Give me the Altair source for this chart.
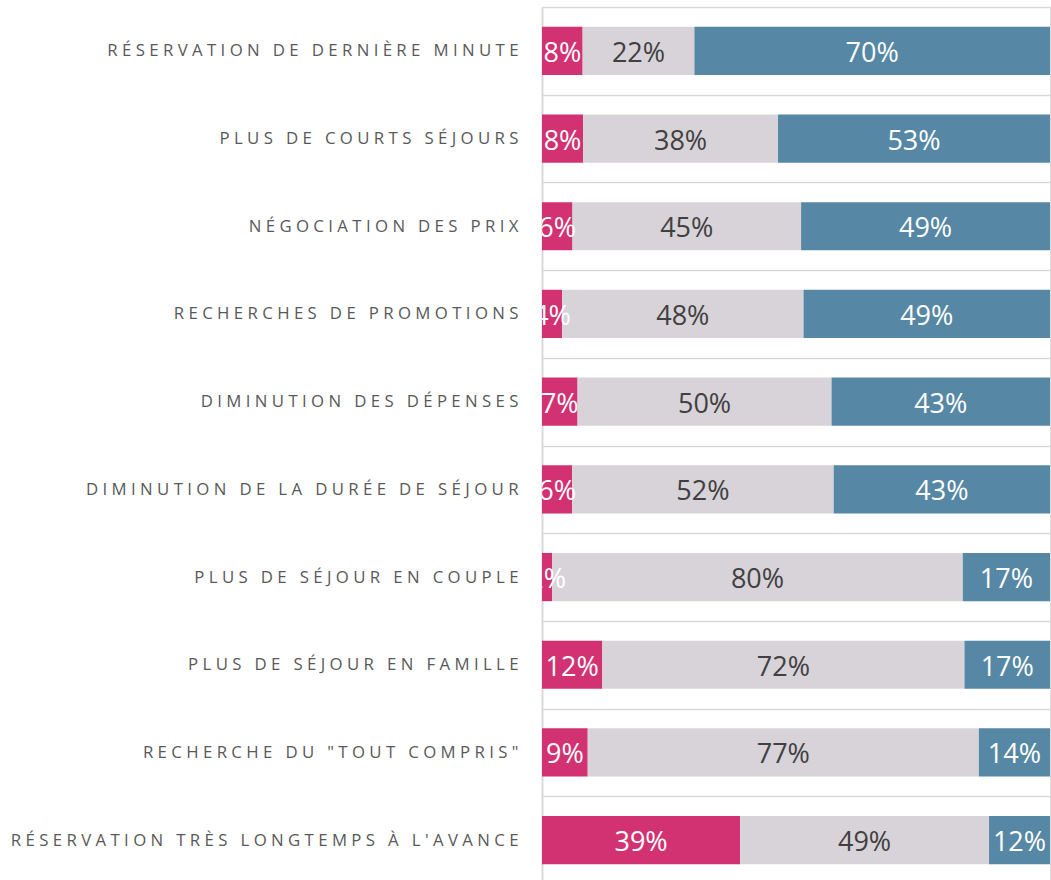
import altair as alt
import pandas as pd

categories = [
    "RÉSERVATION DE DERNIÈRE MINUTE",
    "PLUS DE COURTS SÉJOURS",
    "NÉGOCIATION DES PRIX",
    "RECHERCHES DE PROMOTIONS",
    "DIMINUTION DES DÉPENSES",
    "DIMINUTION DE LA DURÉE DE SÉJOUR",
    "PLUS DE SÉJOUR EN COUPLE",
    "PLUS DE SÉJOUR EN FAMILLE",
    'RECHERCHE DU "TOUT COMPRIS"',
    "RÉSERVATION TRÈS LONGTEMPS À L'AVANCE",
]
seg_a = [8, 8, 6, 4, 7, 6, 2, 12, 9, 39]
seg_b = [22, 38, 45, 48, 50, 52, 80, 72, 77, 49]
seg_c = [70, 53, 49, 49, 43, 43, 17, 17, 14, 12]

GAP = "\u00a0"


def spaced(s):
    return GAP.join(list(s))


labels = [spaced(c) for c in categories]

rows = []
for i, lab in enumerate(labels):
    for k, (seg, vals) in enumerate([("a", seg_a), ("b", seg_b), ("c", seg_c)]):
        rows.append({"cat": lab, "seg": seg, "ord": k, "value": vals[i],
                     "txt": f"{vals[i]}%"})
df = pd.DataFrame(rows)

base = alt.Chart(df).transform_stack(
    stack="value", groupby=["cat"], as_=["x0", "x1"], offset="normalize",
    sort=[alt.SortField("ord", order="ascending")],
).transform_calculate(mid="(datum.x0 + datum.x1) / 2")

yenc = alt.Y(
    "cat:N", sort=labels, title=None,
    scale=alt.Scale(paddingInner=0, paddingOuter=0),
    axis=alt.Axis(
        tickBand="extent", ticks=False, grid=True, gridColor="#d9d9d9",
        gridWidth=1.5, domainColor="#d9d9d9", domainWidth=2,
        labelFont="Open Sans", labelFontSize=16.8, labelColor="#595959",
        labelPadding=24, labelLimit=0, labelAlign="right",
    ),
)
xscale = alt.Scale(domain=[0, 1], nice=False, zero=True)

bars = base.mark_bar(height={"band": 0.55}).encode(
    y=yenc,
    x=alt.X("x0:Q", scale=xscale, axis=None),
    x2="x1:Q",
    color=alt.Color("seg:N", scale=alt.Scale(domain=["a", "b", "c"],
                    range=["#D23172", "#D8D3D9", "#5687A4"]), legend=None),
)

texts = base.mark_text(font="Open Sans", fontSize=27, clip=True, dy=3,
                       align="center", baseline="middle").encode(
    y=alt.Y("cat:N", sort=labels),
    x=alt.X("mid:Q", scale=xscale, axis=None),
    text="txt:N",
    color=alt.condition(alt.datum.seg == "b", alt.value("#404040"), alt.value("#ffffff")),
)

chart = alt.layer(bars, texts).properties(
    width=508, height=877,
    autosize=alt.AutoSizeParams(type="none"),
    padding={"left": 542, "top": 7, "right": 1, "bottom": 0},
).configure_view(stroke=None).configure(background="white")

chart.save("out.html", embed_options={"renderer": "svg", "actions": False})
